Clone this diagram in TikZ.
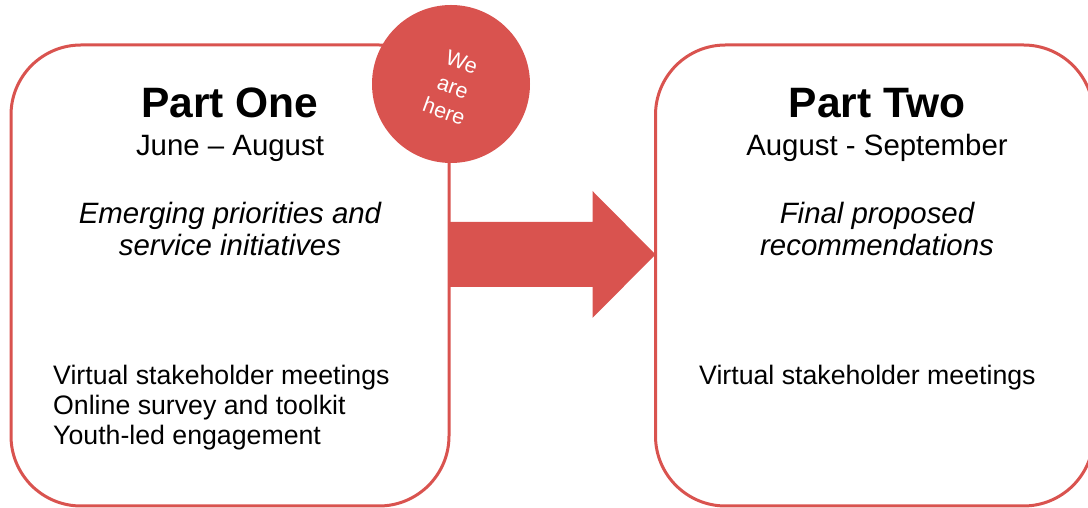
\documentclass[tikz,border=0pt]{standalone}
\usepackage{fontspec}
\setmainfont{Liberation Sans}
\definecolor{herered}{RGB}{217,83,79}
\tikzset{
  partbox/.style={draw=herered, line width=3pt, rounded corners=70pt,
    minimum width=438pt, minimum height=461pt, inner sep=0pt, outer sep=0pt},
  parttitle/.style={font=\fontsize{42.5}{50}\selectfont\bfseries},
  partdate/.style={font=\fontsize{29.4}{34}\selectfont},
  partaim/.style={font=\fontsize{29.4}{32}\selectfont\itshape, align=center},
  partlist/.style={font=\fontsize{26.7}{30}\selectfont, align=left, anchor=west, inner sep=0pt},
}
\begin{document}
\begin{tikzpicture}[x=1pt,y=1pt]
  \useasboundingbox (0,0) rectangle (1088,508);
  \clip (0,0) rectangle (1088,508);
  % the two stages
  \node[partbox] (partone) at (230,232.5) {};
  \node[partbox] (parttwo) at (874.5,232.5) {};
  % big arrow from one to two
  \coordinate (tail) at ([yshift=21]partone.east);
  \coordinate (tip) at ([yshift=21]parttwo.west);
  \fill[herered] ([yshift=32.5]tail) -- ([xshift=-63,yshift=32.5]tip)
    -- ([xshift=-63,yshift=63.5]tip) -- (tip) -- ([xshift=-63,yshift=-63.5]tip)
    -- ([xshift=-63,yshift=-32.5]tip) -- ([yshift=-32.5]tail) -- cycle;
  % we are here
  \node[circle, fill=herered, minimum size=158pt, inner sep=0pt] (here) at (451,424) {};
  \node[text=white, rotate=-20, align=center, font=\fontsize{21.5}{26}\selectfont]
    (heretext) at ([shift={(2,-3)}]here.center) {We\\are\\here};
  % part one
  \node[parttitle] (onetitle) at (230,405) {Part One};
  \node[partdate] (onedate) at (230,360) {June – August};
  \node[partaim] (oneaim) at (230,279) {Emerging priorities and\\service initiatives};
  \node[partlist] (onelist) at (53,100) {Virtual stakeholder meetings\\Online survey and toolkit\\Youth-led engagement};
  % part two
  \node[parttitle] (twotitle) at (877,405) {Part Two};
  \node[partdate] (twodate) at (877,360) {August - September};
  \node[partaim] (twoaim) at (877,279) {Final proposed\\recommendations};
  \node[partlist] (twolist) at (699,130) {Virtual stakeholder meetings};
\end{tikzpicture}
\end{document}
